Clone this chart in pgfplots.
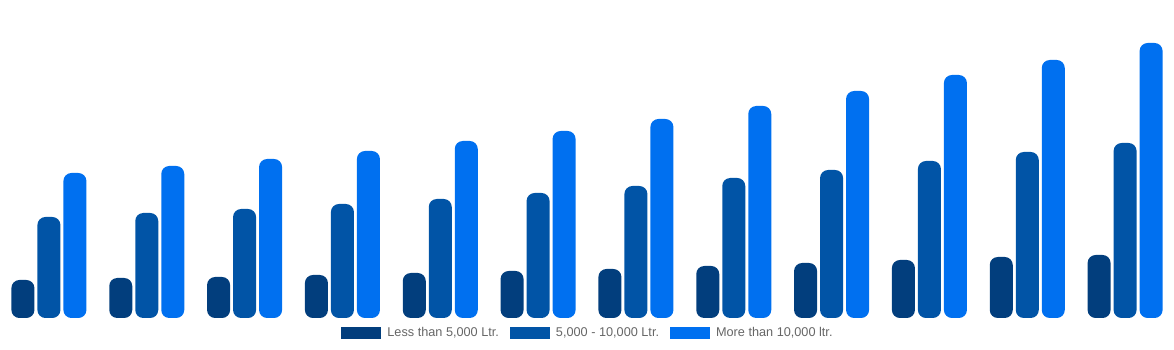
\documentclass[border=0pt]{standalone}
\usepackage{pgfplots}
\pgfplotsset{compat=1.18}
\usepackage{pgfplotstable}
\usepackage{fontspec}
\setmainfont{Liberation Sans}
\definecolor{cA}{RGB}{2,62,125}
\definecolor{cB}{RGB}{1,84,166}
\definecolor{cC}{RGB}{0,112,240}
\definecolor{legtext}{RGB}{102,102,102}
\pgfplotstableread{
x a b c
0 38 101 145
1 40 105 152
2 41 109 159
3 43 114 167
4 45 119 177
5 47 125 187
6 49 132 199
7 52 140 212
8 55 148 227
9 58 157 243
10 61 166 258
11 63 175 275
}\datatable
\begin{document}
\begin{tikzpicture}
\useasboundingbox (0,0) rectangle (1174pt,350pt);
\begin{axis}[
  at={(0pt,32pt)}, anchor=south west,
  scale only axis, width=1174pt, height=318pt,
  xmin=-0.5, xmax=11.5, ymin=20, ymax=338,
  hide axis, clip=true,
  ybar=3pt, bar width=23pt,
  every axis plot/.append style={draw=none, rounded corners=8pt},
  legend columns=-1,
  legend style={draw=none, fill=none, at={(0.5,0)}, anchor=center, yshift=-15pt,
    font=\fontsize{12.7}{14}\selectfont, text=legtext,
    nodes={inner sep=0pt},
    /tikz/every odd column/.append style={column sep=6pt},
    /tikz/every even column/.append style={column sep=11pt},
    inner sep=0pt},
  legend image code/.code={\path[sharp corners, fill, draw=none] (0pt,-6pt) rectangle (40pt,6pt);},
]
\addplot[fill=cA] table[x=x, y expr=\thisrow{a}+20] {\datatable};
\addplot[fill=cB] table[x=x, y expr=\thisrow{b}+20] {\datatable};
\addplot[fill=cC] table[x=x, y expr=\thisrow{c}+20] {\datatable};
\legend{{Less than 5,000 Ltr.}, {5,000 - 10,000 Ltr.}, {More than 10,000 ltr.}}
\end{axis}
\end{tikzpicture}
\end{document}
